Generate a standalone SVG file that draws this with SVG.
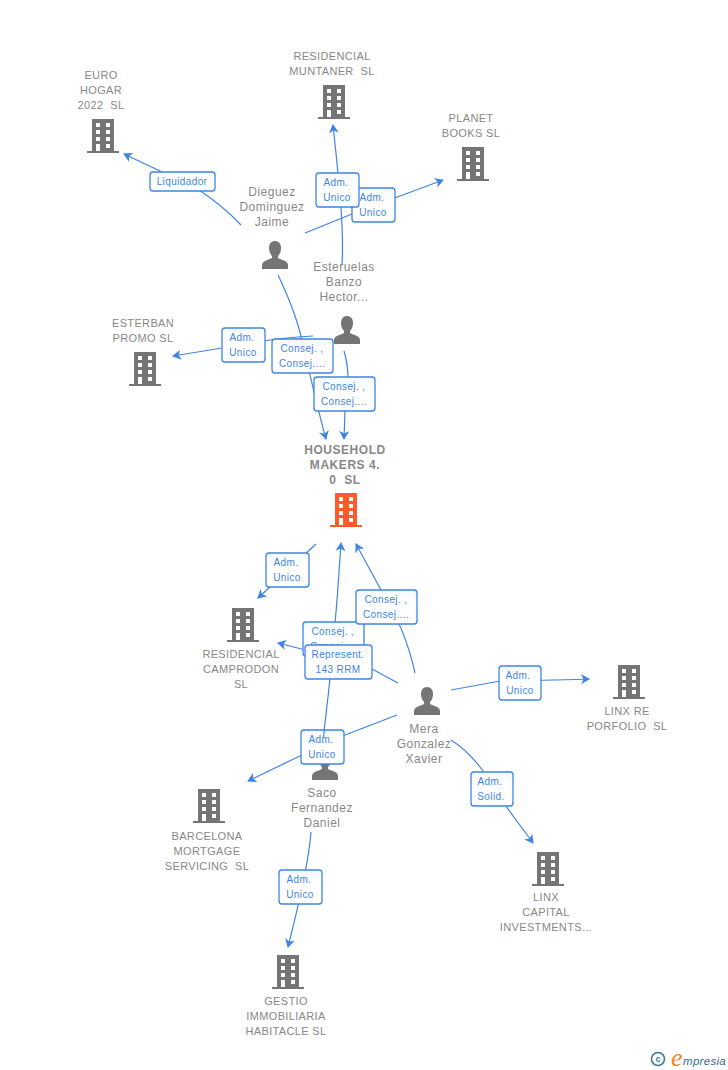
<svg xmlns="http://www.w3.org/2000/svg" width="728" height="1070" viewBox="0 0 728 1070">
<style>
.n{font-family:"Liberation Sans",Arial,sans-serif;font-size:11px;fill:#888;text-anchor:middle;letter-spacing:.35px;white-space:pre}
.p{font-size:12px;letter-spacing:.5px}
.h{font-weight:bold;font-size:12px;letter-spacing:.55px}
.c{fill:none;stroke:#3f84e5;stroke-width:1.2}
.b rect{fill:url(#lg);stroke:#3f84e5;stroke-width:1.3}
.b text{font-family:"Liberation Sans",Arial,sans-serif;font-size:10px;fill:#3f84e5;text-anchor:middle;letter-spacing:.4px}
</style>
<defs>
<linearGradient id="lg" x1="0" y1="0" x2="0" y2="1"><stop offset="0" stop-color="#f5f8fd"/><stop offset=".4" stop-color="#fff"/></linearGradient>
<marker id="a" markerWidth="10" markerHeight="12" refX="8" refY="6" orient="auto" markerUnits="userSpaceOnUse"><path d="M0 1L9 6L0 11L2.5 6Z" fill="#3f84e5"/></marker>
<symbol id="bld" viewBox="0 0 32 34" width="32" height="34" overflow="visible"><path fill-rule="evenodd" d="M5 0H27V32H32V34H0V32H5ZM9 4V8H13V4ZM19 4V8H23V4ZM9 11V15H13V11ZM19 11V15H23V11ZM9 18V22H13V18ZM19 18V22H23V18ZM9 25V32H13V25ZM19 25V29H23V25Z"/></symbol>
<symbol id="per" viewBox="0 0 28 28" width="28" height="28"><path d="M14 0C10 0 8 3 8 7C8 10 9 13 11 15V17C7 19 1 20 1 24V28H27V24C27 20 21 19 17 17V15C19 13 20 10 20 7C20 3 18 0 14 0Z"/></symbol>
</defs>
<g id="connectors">
<path class="c" marker-end="url(#a)" d="M241 225C225 208 210 197 196 188L124 154"/>
<path class="c" marker-end="url(#a)" d="M342 265C344 230 340 190 333 125"/>
<path class="c" marker-end="url(#a)" d="M305 233L352 214L443 180"/>
<path class="c" marker-end="url(#a)" d="M313 336C280 338 250 342 222 348L173 356"/>
<path class="c" marker-end="url(#a)" d="M278 275C290 300 298 320 303 345C310 375 318 410 326 439"/>
<path class="c" marker-end="url(#a)" d="M344 351C350 370 349 400 345 410L344 439"/>
<path class="c" marker-end="url(#a)" d="M316 544L272 585L258 598"/>
<path class="c" marker-end="url(#a)" d="M323 740C328 700 335 640 341 543"/>
<path class="c" marker-end="url(#a)" d="M415 673C410 650 400 620 381 590L356 544"/>
<path class="c" marker-end="url(#a)" d="M398 683L372 669L345 660L278 643"/>
<path class="c" marker-end="url(#a)" d="M397 715L345 735L302 755L248 781"/>
<path class="c" marker-end="url(#a)" d="M451 690L500 681C530 681 560 680 589 679"/>
<path class="c" marker-end="url(#a)" d="M451 740C475 755 490 780 505 805L533 843"/>
<path class="c" marker-end="url(#a)" d="M311 832C309 860 300 900 288 947"/>
</g>
<g id="n-euro" fill="#757575"><use href="#bld" x="87" y="119"/><text class="n"><tspan x="101" y="79">EURO</tspan><tspan x="101" y="94">HOGAR</tspan><tspan x="101" y="109">2022  SL</tspan></text></g>
<g id="n-muntaner" fill="#757575"><use href="#bld" x="318" y="85"/><text class="n"><tspan x="332" y="60">RESIDENCIAL</tspan><tspan x="332" y="75">MUNTANER  SL</tspan></text></g>
<g id="n-planet" fill="#757575"><use href="#bld" x="457" y="147"/><text class="n"><tspan x="471" y="122">PLANET</tspan><tspan x="471" y="137">BOOKS SL</tspan></text></g>
<g id="n-esterban" fill="#757575"><use href="#bld" x="129" y="352"/><text class="n"><tspan x="143" y="327">ESTERBAN</tspan><tspan x="143" y="342">PROMO SL</tspan></text></g>
<g id="n-household" fill="#ff5a2a"><use href="#bld" x="330" y="493"/><text class="n h"><tspan x="345" y="454">HOUSEHOLD</tspan><tspan x="345" y="469">MAKERS 4.</tspan><tspan x="345" y="484">0  SL</tspan></text></g>
<g id="n-camprodon" fill="#757575"><use href="#bld" x="227" y="608"/><text class="n"><tspan x="241" y="658">RESIDENCIAL</tspan><tspan x="241" y="673">CAMPRODON</tspan><tspan x="241" y="688">SL</tspan></text></g>
<g id="n-linxre" fill="#757575"><use href="#bld" x="613" y="665"/><text class="n"><tspan x="627" y="715">LINX RE</tspan><tspan x="627" y="730">PORFOLIO  SL</tspan></text></g>
<g id="n-barcelona" fill="#757575"><use href="#bld" x="193" y="789"/><text class="n"><tspan x="207" y="840">BARCELONA</tspan><tspan x="207" y="855">MORTGAGE</tspan><tspan x="207" y="870">SERVICING  SL</tspan></text></g>
<g id="n-linxcap" fill="#757575"><use href="#bld" x="532" y="852"/><text class="n"><tspan x="546" y="901">LINX</tspan><tspan x="546" y="916">CAPITAL</tspan><tspan x="546" y="931">INVESTMENTS...</tspan></text></g>
<g id="n-gestio" fill="#757575"><use href="#bld" x="272" y="955"/><text class="n"><tspan x="286" y="1005">GESTIO</tspan><tspan x="286" y="1020">IMMOBILIARIA</tspan><tspan x="286" y="1035">HABITACLE SL</tspan></text></g>
<g id="n-dieguez" fill="#757575"><use href="#per" x="261" y="241"/><text class="n p"><tspan x="272" y="196">Dieguez</tspan><tspan x="272" y="211">Dominguez</tspan><tspan x="272" y="226">Jaime</tspan></text></g>
<g id="n-esteruelas" fill="#757575"><use href="#per" x="333" y="316"/><text class="n p"><tspan x="344" y="271">Esteruelas</tspan><tspan x="344" y="286">Banzo</tspan><tspan x="344" y="301">Hector...</tspan></text></g>
<g id="n-mera" fill="#757575"><use href="#per" x="413" y="687"/><text class="n p"><tspan x="424" y="733">Mera</tspan><tspan x="424" y="748">Gonzalez</tspan><tspan x="424" y="763">Xavier</tspan></text></g>
<g id="n-saco" fill="#757575"><use href="#per" x="311" y="752"/><text class="n p"><tspan x="322" y="797">Saco</tspan><tspan x="322" y="812">Fernandez</tspan><tspan x="322" y="827">Daniel</tspan></text></g>
<g id="edge-labels" class="b">
<rect x="150" y="172" width="65" height="19" rx="3"/><text x="182" y="185">Liquidador</text>
<rect x="352" y="188" width="43" height="34" rx="3"/><text x="372" y="201">Adm.</text><text x="373" y="216">Unico</text>
<rect x="316" y="173" width="43" height="34" rx="3"/><text x="336" y="186">Adm.</text><text x="337" y="201">Unico</text>
<rect x="222" y="328" width="43" height="34" rx="3"/><text x="242" y="341">Adm.</text><text x="243" y="356">Unico</text>
<rect x="272" y="339" width="61" height="34" rx="3"/><text x="302" y="352">Consej. ,</text><text x="302" y="367">Consej....</text>
<rect x="314" y="377" width="61" height="34" rx="3"/><text x="344" y="390">Consej. ,</text><text x="344" y="405">Consej....</text>
<rect x="266" y="553" width="43" height="34" rx="3"/><text x="286" y="566">Adm.</text><text x="287" y="581">Unico</text>
<rect x="303" y="622" width="61" height="34" rx="3"/><text x="333" y="635">Consej. ,</text><text x="333" y="650">Consej....</text>
<rect x="356" y="590" width="61" height="34" rx="3"/><text x="386" y="603">Consej. ,</text><text x="386" y="618">Consej....</text>
<rect x="305" y="645" width="67" height="34" rx="3"/><text x="338" y="658">Represent.</text><text x="338" y="673">143 RRM</text>
<rect x="301" y="730" width="43" height="34" rx="3"/><text x="321" y="743">Adm.</text><text x="322" y="758">Unico</text>
<rect x="499" y="666" width="42" height="34" rx="3"/><text x="518" y="679">Adm.</text><text x="520" y="694">Unico</text>
<rect x="471" y="772" width="42" height="34" rx="3"/><text x="490" y="785">Adm.</text><text x="491" y="800">Solid.</text>
<rect x="279" y="870" width="43" height="34" rx="3"/><text x="299" y="883">Adm.</text><text x="300" y="898">Unico</text>
</g>
<path class="c" d="M323.5 737L324.5 730"/>
<g id="logo"><circle cx="658" cy="1059" r="6.5" fill="none" stroke="#3d7d94" stroke-width="1.6"/><text x="658" y="1062" font-family="Liberation Sans,sans-serif" font-size="9" font-weight="bold" fill="#3d7d94" text-anchor="middle">c</text><text x="671" y="1066" font-family="Liberation Serif,serif" font-style="italic" font-size="26" fill="#f58220">e</text><text x="683" y="1065" font-family="Liberation Sans,sans-serif" font-style="italic" font-size="11.5" fill="#2f6f8f" letter-spacing=".3">mpresia</text></g>
</svg>
